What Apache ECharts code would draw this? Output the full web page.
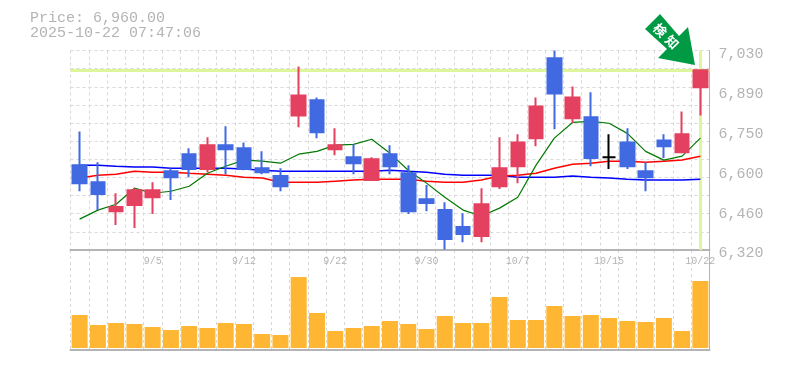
<!DOCTYPE html>
<html><head><meta charset="utf-8">
<style>html,body{margin:0;padding:0;background:#fff}#c{width:785px;height:370px}</style>
<script src="https://cdn.jsdelivr.net/npm/echarts@6/dist/echarts.min.js"></script>
</head><body><div id="c"></div>
<script>
const titleLines = ['Price: 6,960.00', '2025-10-22 07:47:06'];
const categories = ['9/1','9/2','9/3','9/4','9/5','9/8','9/9','9/10','9/11','9/12','9/16','9/17','9/18','9/19','9/22','9/24','9/25','9/26','9/29','9/30','10/1','10/2','10/3','10/6','10/7','10/8','10/9','10/10','10/14','10/15','10/16','10/17','10/20','10/21','10/22'];
const priceLabels = ['6,320','6,460','6,600','6,750','6,890','7,030'];
// open, close, low, high
const candles = [
[6622,6558,6529,6742],[6561,6519,6462,6632],[6458,6473,6409,6522],[6480,6533,6398,6540],[6508,6533,6448,6561],
[6600,6579,6498,6611],[6661,6608,6579,6682],[6608,6693,6597,6721],[6693,6679,6590,6760],[6682,6608,6604,6703],
[6611,6597,6590,6671],[6583,6547,6529,6611],[6799,6870,6757,6973],[6853,6739,6718,6863],[6679,6693,6657,6753],
[6650,6629,6590,6696],[6569,6643,6569,6650],[6661,6618,6590,6693],[6593,6458,6448,6622],[6501,6487,6458,6551],
[6462,6359,6322,6490],[6402,6377,6348,6451],[6370,6483,6348,6540],[6547,6611,6537,6721],[6618,6703,6558,6732],
[6718,6831,6689,6863],[7002,6877,6750,7030],[6789,6863,6771,6902],[6792,6647,6618,6881],[6650,6650,6608,6732],
[6703,6618,6608,6753],[6600,6579,6529,6632],[6710,6689,6647,6732],[6668,6732,6668,6813],[6899,6960,6799,6960]];
const ma5 = [6430,6462,6483,6540,6522,6529,6547,6593,6618,6640,6636,6629,6661,6671,6693,6696,6714,6664,6604,6558,6508,6462,6441,6469,6508,6622,6718,6774,6778,6771,6735,6671,6640,6654,6718];
const ma25 = [6576,6586,6590,6600,6597,6597,6593,6590,6586,6579,6576,6561,6561,6561,6565,6569,6572,6572,6572,6565,6561,6561,6569,6583,6586,6593,6611,6625,6629,6636,6636,6632,6636,6640,6654];
const ma75 = [6622,6622,6618,6615,6615,6611,6611,6611,6611,6608,6604,6600,6600,6600,6600,6600,6600,6604,6600,6597,6590,6586,6586,6586,6579,6579,6579,6583,6579,6576,6572,6569,6569,6569,6572];
const volumes = [33,23,25,24,21,18,22,20,25,24,14,13,71,35,17,20,22,27,24,19,32,25,25,51,28,28,42,32,33,30,27,26,30,17,67];
const lastPrice = 6960;
const PRICE_MIN = 6320, PRICE_MAX = 7030;
const MONO = '"Liberation Mono", monospace';
const RED = '#E4405F', BLUE = '#4169E1', HILITE = '#DFF59B', GRAY = '#B4B4B4', GRID = '#D8D8D8';

const candleData = candles.map(c => c[0] === c[1]
  ? {value: c, itemStyle: {color: '#000', color0: '#000', borderColor: '#000', borderColor0: '#000', borderColorDoji: '#000'}}
  : c);

const chart = echarts.init(document.getElementById('c'), null, {renderer: 'canvas'});
const gridV = {show: true, interval: 0, lineStyle: {color: GRID, type: [3, 3], width: 1}};
chart.setOption({
  animation: false,
  backgroundColor: '#fff',
  title: {left: 25, top: 6, text: titleLines.join('\n'),
    textStyle: {fontFamily: MONO, fontSize: 15, fontWeight: 'normal', color: GRAY, lineHeight: 15}},
  grid: [
    {left: 70.5, right: 75.5, top: 50.5, height: 199.5, containLabel: false},
    {left: 70.5, right: 75.5, top: 250, height: 100}
  ],
  xAxis: [
    {type: 'category', gridIndex: 0, data: categories, boundaryGap: true,
     axisLine: {show: true, onZero: false, lineStyle: {color: GRAY, width: 2}}, axisTick: {show: false},
     splitLine: gridV,
     axisLabel: {show: true, interval: (i) => (i + 1) % 5 === 0, fontFamily: MONO, fontSize: 10, color: GRAY, margin: 6}},
    {type: 'category', gridIndex: 1, data: categories, boundaryGap: true,
     axisLine: {show: true, onZero: false, lineStyle: {color: GRAY, width: 2}}, axisTick: {show: false},
     splitLine: gridV, axisLabel: {show: false}}
  ],
  yAxis: [
    {type: 'value', gridIndex: 0, position: 'right', min: PRICE_MIN, max: PRICE_MAX, interval: 142,
     splitLine: {show: false}, axisTick: {show: false},
     axisLine: {show: true, lineStyle: {color: GRAY, width: 1}},
     axisLabel: {fontFamily: MONO, fontSize: 15, color: GRAY, margin: 9, verticalAlign: 'top', padding: [-4, 0, 0, 0],
       formatter: (v) => priceLabels[Math.round((v - PRICE_MIN) / 142)]}},
    {type: 'value', gridIndex: 0, position: 'left', min: 0, max: 11, interval: 1,
     axisLine: {show: false}, axisTick: {show: false}, axisLabel: {show: false},
     splitLine: {show: true, lineStyle: {color: GRID, type: [3, 3], width: 1}}},
    {type: 'value', gridIndex: 1, position: 'right', min: -2, max: 98,
     splitLine: {show: false}, axisTick: {show: false}, axisLabel: {show: false},
     axisLine: {show: true, onZero: false, lineStyle: {color: GRAY, width: 1}}}
  ],
  series: [
    {type: 'line', name: 'MA75', xAxisIndex: 0, yAxisIndex: 0, data: ma75, symbol: 'none', z: 3,
     lineStyle: {color: '#0000FF', width: 1.5}},
    {type: 'line', name: 'MA25', xAxisIndex: 0, yAxisIndex: 0, data: ma25, symbol: 'none', z: 3,
     lineStyle: {color: '#FF0000', width: 1.5}},
    {type: 'line', name: 'MA5', xAxisIndex: 0, yAxisIndex: 0, data: ma5, symbol: 'none', z: 3, smooth: false,
     lineStyle: {color: '#007A00', width: 1.2}},
    {type: 'candlestick', name: 'Price', xAxisIndex: 0, yAxisIndex: 0, data: candleData, barWidth: 14, z: 4,
     itemStyle: {color: RED, color0: BLUE, borderColor: RED, borderColor0: BLUE, borderWidth: 2},
     markLine: {silent: true, symbol: 'none', animation: false, z: 2, label: {show: false},
       lineStyle: {color: HILITE, width: 3, type: 'solid'},
       data: [{yAxis: lastPrice}, {xAxis: categories.length - 1}]}},
    {type: 'bar', name: 'Volume', xAxisIndex: 1, yAxisIndex: 2, data: volumes, barWidth: 16,
     itemStyle: {color: '#FFB733'}}
  ],
  graphic: [
    {type: 'polygon', z: 10, shape: {points: [[660,14],[679,36],[688,27],[695,65],[658,58],[667,49],[645,29]]},
     style: {fill: '#009A44'}},
    {type: 'text', z: 11, x: 660, y: 30, rotation: -Math.PI / 4,
     style: {text: '検', fill: '#fff', font: 'bold 13px "Noto Sans CJK JP"', align: 'center', verticalAlign: 'middle'}},
    {type: 'text', z: 11, x: 672, y: 42, rotation: -Math.PI / 4,
     style: {text: '知', fill: '#fff', font: 'bold 13px "Noto Sans CJK JP"', align: 'center', verticalAlign: 'middle'}}
  ]
});
</script></body></html>
